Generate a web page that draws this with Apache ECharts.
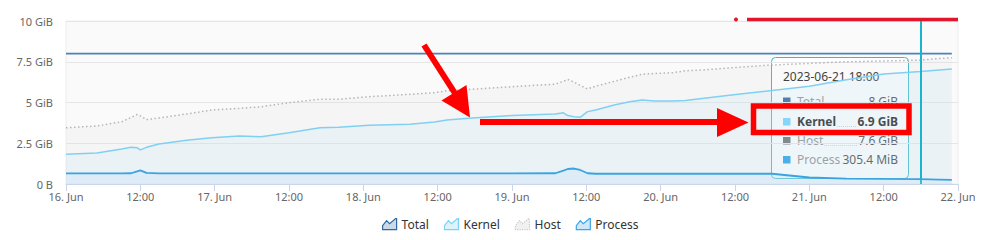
<!DOCTYPE html>
<html>
<head>
<meta charset="utf-8">
<script src="https://cdn.jsdelivr.net/npm/echarts@6/dist/echarts.min.js"></script>
<style>html,body{margin:0;padding:0;background:#fff}#c{width:997px;height:240px}</style>
</head>
<body>
<div id="c"></div>
<script>
// hours since 2023-06-16 00:00
const HOURS   = [0,5,9,10.5,11.5,12,13,15,19.5,23.5,28,31.5,36,41,44,49,55.5,59.5,61.5,65,72,79,80.3,81,82,83,84.2,85.5,88.5,91,93,95,98,100,103,108.5,114,120,126,132,138,141,143];
const TOTAL   = [8,8,8,8,8,8,8,8,8,8,8,8,8,8,8,8,8,8,8,8,8,8,8,8,8,8,8,8,8,8,8,8,8,8,8,8,8,8,8,8,8,8,8];
const KERNEL  = [1.82,1.90,2.15,2.25,2.22,2.09,2.25,2.45,2.68,2.84,2.94,2.90,3.15,3.45,3.48,3.60,3.66,3.80,3.93,4.03,4.21,4.29,4.37,4.20,4.13,4.09,4.44,4.54,4.85,5.05,5.15,5.09,5.09,5.13,5.26,5.50,5.73,6.00,6.40,6.75,6.90,7.00,7.05];
const HOST    = [3.45,3.56,3.82,4.08,4.27,4.18,3.95,4.05,4.30,4.54,4.64,4.74,4.99,5.20,5.20,5.36,5.50,5.60,5.72,5.80,5.97,6.13,6.30,6.42,6.25,6.05,5.83,6.00,6.30,6.55,6.73,6.78,6.83,6.95,7.00,7.16,7.30,7.40,7.50,7.55,7.60,7.70,7.75];
const PROCESS = [0.65,0.65,0.65,0.66,0.78,0.84,0.68,0.65,0.65,0.65,0.65,0.65,0.65,0.65,0.65,0.65,0.65,0.65,0.65,0.65,0.65,0.66,0.82,0.92,0.95,0.86,0.66,0.63,0.63,0.63,0.63,0.63,0.63,0.63,0.63,0.63,0.63,0.40,0.33,0.31,0.2982,0.27,0.25];
const SERIES_NAMES = ['Total','Kernel','Host','Process'];
const Y_TICKS = [0,2.5,5,7.5,10];
const START_UTC = Date.UTC(2023,5,16,0,0);
const HOVER_H = 138;
const HIGHLIGHT = 'Kernel';

const FONT = '"Noto Sans", "Open Sans", sans-serif';

function fmtSize(v){
  if (v === 0) return '0 B';
  if (v < 1) return (Math.round(v*1024*10)/10).toFixed(1) + ' MiB';
  return (Math.round(v*10)/10).toString() + ' GiB';
}
function fmtDate(h){
  const d = new Date(START_UTC + h*3600000);
  const p = n => String(n).padStart(2,'0');
  return d.getUTCFullYear()+'-'+p(d.getUTCMonth()+1)+'-'+p(d.getUTCDate())+' '+p(d.getUTCHours())+':'+p(d.getUTCMinutes());
}
function pairs(arr){ return HOURS.map((h,i)=>[h,arr[i]]); }

const colors = {
  Total:  {line:'#4a82b9', marker:'#225a92', icon:'#2e69a3'},
  Kernel: {line:'#80d0f2', marker:'#6fd3fb', icon:'#79d3f6'},
  Host:   {line:'#b5b5b5', marker:'#666666', icon:'#c8c8c8'},
  Process:{line:'#3aa3e0', marker:'#1a9ee6', icon:'#3aa5e8'}
};

const mctx = document.createElement('canvas').getContext('2d');
function tw(text, font){ mctx.font = font; return mctx.measureText(text).width; }

// tooltip built from data
const hi = HOURS.indexOf(HOVER_H);
const tipVals = {Total:TOTAL[hi], Kernel:KERNEL[hi], Host:HOST[hi], Process:PROCESS[hi]};
const tipChildren = [
  {type:'rect', shape:{x:0.5,y:0.5,width:137,height:121,r:4}, style:{fill:'#ffffff', stroke:'#3bb9c9', lineWidth:1}},
  {type:'text', x:12, y:19, style:{text:fmtDate(HOVER_H), font:'12px '+FONT, fill:'#333', textVerticalAlign:'middle', verticalAlign:'middle'}}
];
const rowY = [44, 64.5, 83.5, 102.5];
SERIES_NAMES.forEach((n,i)=>{
  const cy = rowY[i];
  const isHi = n === HIGHLIGHT;
  const nf = (isHi ? 'bold ' : '') + '12px ' + FONT;
  const vf = (isHi ? 'bold ' : '') + '12px ' + FONT;
  const val = fmtSize(tipVals[n]);
  const nameX = 26, valR = 127;
  const nw = tw(n, nf), vw = tw(val, vf);
  tipChildren.push({type:'rect', shape:{x:12,y:cy-3.5,width:7.5,height:7.5}, style:{fill:colors[n].marker}});
  tipChildren.push({type:'text', x:nameX, y:cy, style:{text:n, font:nf, fill:isHi?'#111':'#8a8a8a', textVerticalAlign:'middle', verticalAlign:'middle'}});
  tipChildren.push({type:'line', shape:{x1:nameX+nw+1, y1:cy+5, x2:valR-vw-1, y2:cy+5}, style:{stroke:'#cfcfcf', lineWidth:1, lineDash:[1,1]}});
  tipChildren.push({type:'text', x:valR, y:cy, style:{text:val, font:vf, fill:isHi?'#111':'#3c3c3c', textAlign:'right', align:'right', textVerticalAlign:'middle', verticalAlign:'middle'}});
});

const RED = '#ff0000';
const graphics = [
  {type:'group', x:771, y:57, z:100, children:tipChildren},
  // diagonal arrow
  {type:'line', z:110, shape:{x1:424,y1:45,x2:458,y2:98}, style:{stroke:RED, lineWidth:6}},
  {type:'polygon', z:110, shape:{points:[[470,117.5],[441.5,100.5],[466.5,85]]}, style:{fill:RED}},
  // horizontal arrow
  {type:'rect', z:110, shape:{x:480,y:119,width:240,height:6}, style:{fill:RED}},
  {type:'polygon', z:110, shape:{points:[[717,108],[717,137],[748.5,122.5]]}, style:{fill:RED}},
  // highlight box
  {type:'rect', z:110, shape:{x:753.5,y:106,width:155.5,height:26.5}, style:{fill:'none', stroke:RED, lineWidth:5.5}},
  // top line
  {type:'line', z:110, shape:{x1:747,y1:19.5,x2:958,y2:19.5}, style:{stroke:'#e1152b', lineWidth:3.5}},
  {type:'circle', z:110, shape:{cx:736,cy:19.5,r:2}, style:{fill:'#e1152b'}}
];

const iconPath = 'path://M0,12 L0,8 L4,3 L7,6 L13,1 L14,1 L14,12 Z';

const chart = echarts.init(document.getElementById('c'), null, {renderer:'svg'});
chart.setOption({
  animation:false,
  textStyle:{fontFamily:FONT},
  grid:{left:66, right:39, top:21, bottom:56, show:true, backgroundColor:'#fafafa', borderColor:'#ececec', borderWidth:1},
  legend:{
    left:377, top:213, itemWidth:14, itemHeight:11, itemGap:15,
    textStyle:{fontSize:12, color:'#333', fontFamily:FONT},
    data:[
      {name:'Total', icon:iconPath, itemStyle:{color:'rgba(46,105,163,0.25)', borderColor:colors.Total.icon, borderWidth:1.2}},
      {name:'Kernel', icon:iconPath, itemStyle:{color:'rgba(121,211,246,0.25)', borderColor:colors.Kernel.icon, borderWidth:1.2}},
      {name:'Host', icon:iconPath, itemStyle:{color:'rgba(200,200,200,0.25)', borderColor:colors.Host.icon, borderWidth:1.2, borderType:'dotted'}},
      {name:'Process', icon:iconPath, itemStyle:{color:'rgba(58,165,232,0.25)', borderColor:colors.Process.icon, borderWidth:1.2}}
    ]
  },
  xAxis:{
    type:'value', min:0, max:144, interval:12,
    axisLine:{show:true, lineStyle:{color:'#ccd6eb'}},
    axisTick:{show:true, length:7, lineStyle:{color:'#ccd6eb'}},
    splitLine:{show:false},
    axisLabel:{color:'#666', fontSize:11, margin:7, showMinLabel:true, showMaxLabel:true,
      formatter:v=> v%24===0 ? (16+v/24)+'. Jun' : '12:00'}
  },
  yAxis:{
    type:'value', min:Y_TICKS[0], max:Y_TICKS[Y_TICKS.length-1], interval:2.5,
    axisLine:{show:false}, axisTick:{show:false},
    splitLine:{lineStyle:{color:'#e6e6e6', width:1}},
    axisLabel:{color:'#666', fontSize:11, margin:13, formatter:v=>fmtSize(v)}
  },
  series:[
    {name:'Total', type:'line', data:pairs(TOTAL), symbol:'none', z:3,
      lineStyle:{color:colors.Total.line, width:1.8}, itemStyle:{color:colors.Total.line},
      markLine:{silent:true, symbol:['none','none'], label:{show:false},
        lineStyle:{color:'#19b5cc', width:2, type:'solid'}, data:[{xAxis:HOVER_H}]}},
    {name:'Kernel', type:'line', data:pairs(KERNEL), symbol:'none', z:4,
      lineStyle:{color:colors.Kernel.line, width:1.5}, itemStyle:{color:colors.Kernel.line},
      areaStyle:{color:'rgba(200,233,250,0.3)'}},
    {name:'Host', type:'line', data:pairs(HOST), symbol:'none', z:2,
      lineStyle:{color:colors.Host.line, width:1.5, type:[1.5,2.5]}, itemStyle:{color:colors.Host.line},
      areaStyle:{color:'rgba(200,200,200,0.14)'}},
    {name:'Process', type:'line', data:pairs(PROCESS), symbol:'none', z:5,
      lineStyle:{color:colors.Process.line, width:1.8}, itemStyle:{color:colors.Process.line},
      areaStyle:{color:'rgba(170,217,245,0.3)'}}
  ],
  graphic:graphics
});
</script>
</body>
</html>
